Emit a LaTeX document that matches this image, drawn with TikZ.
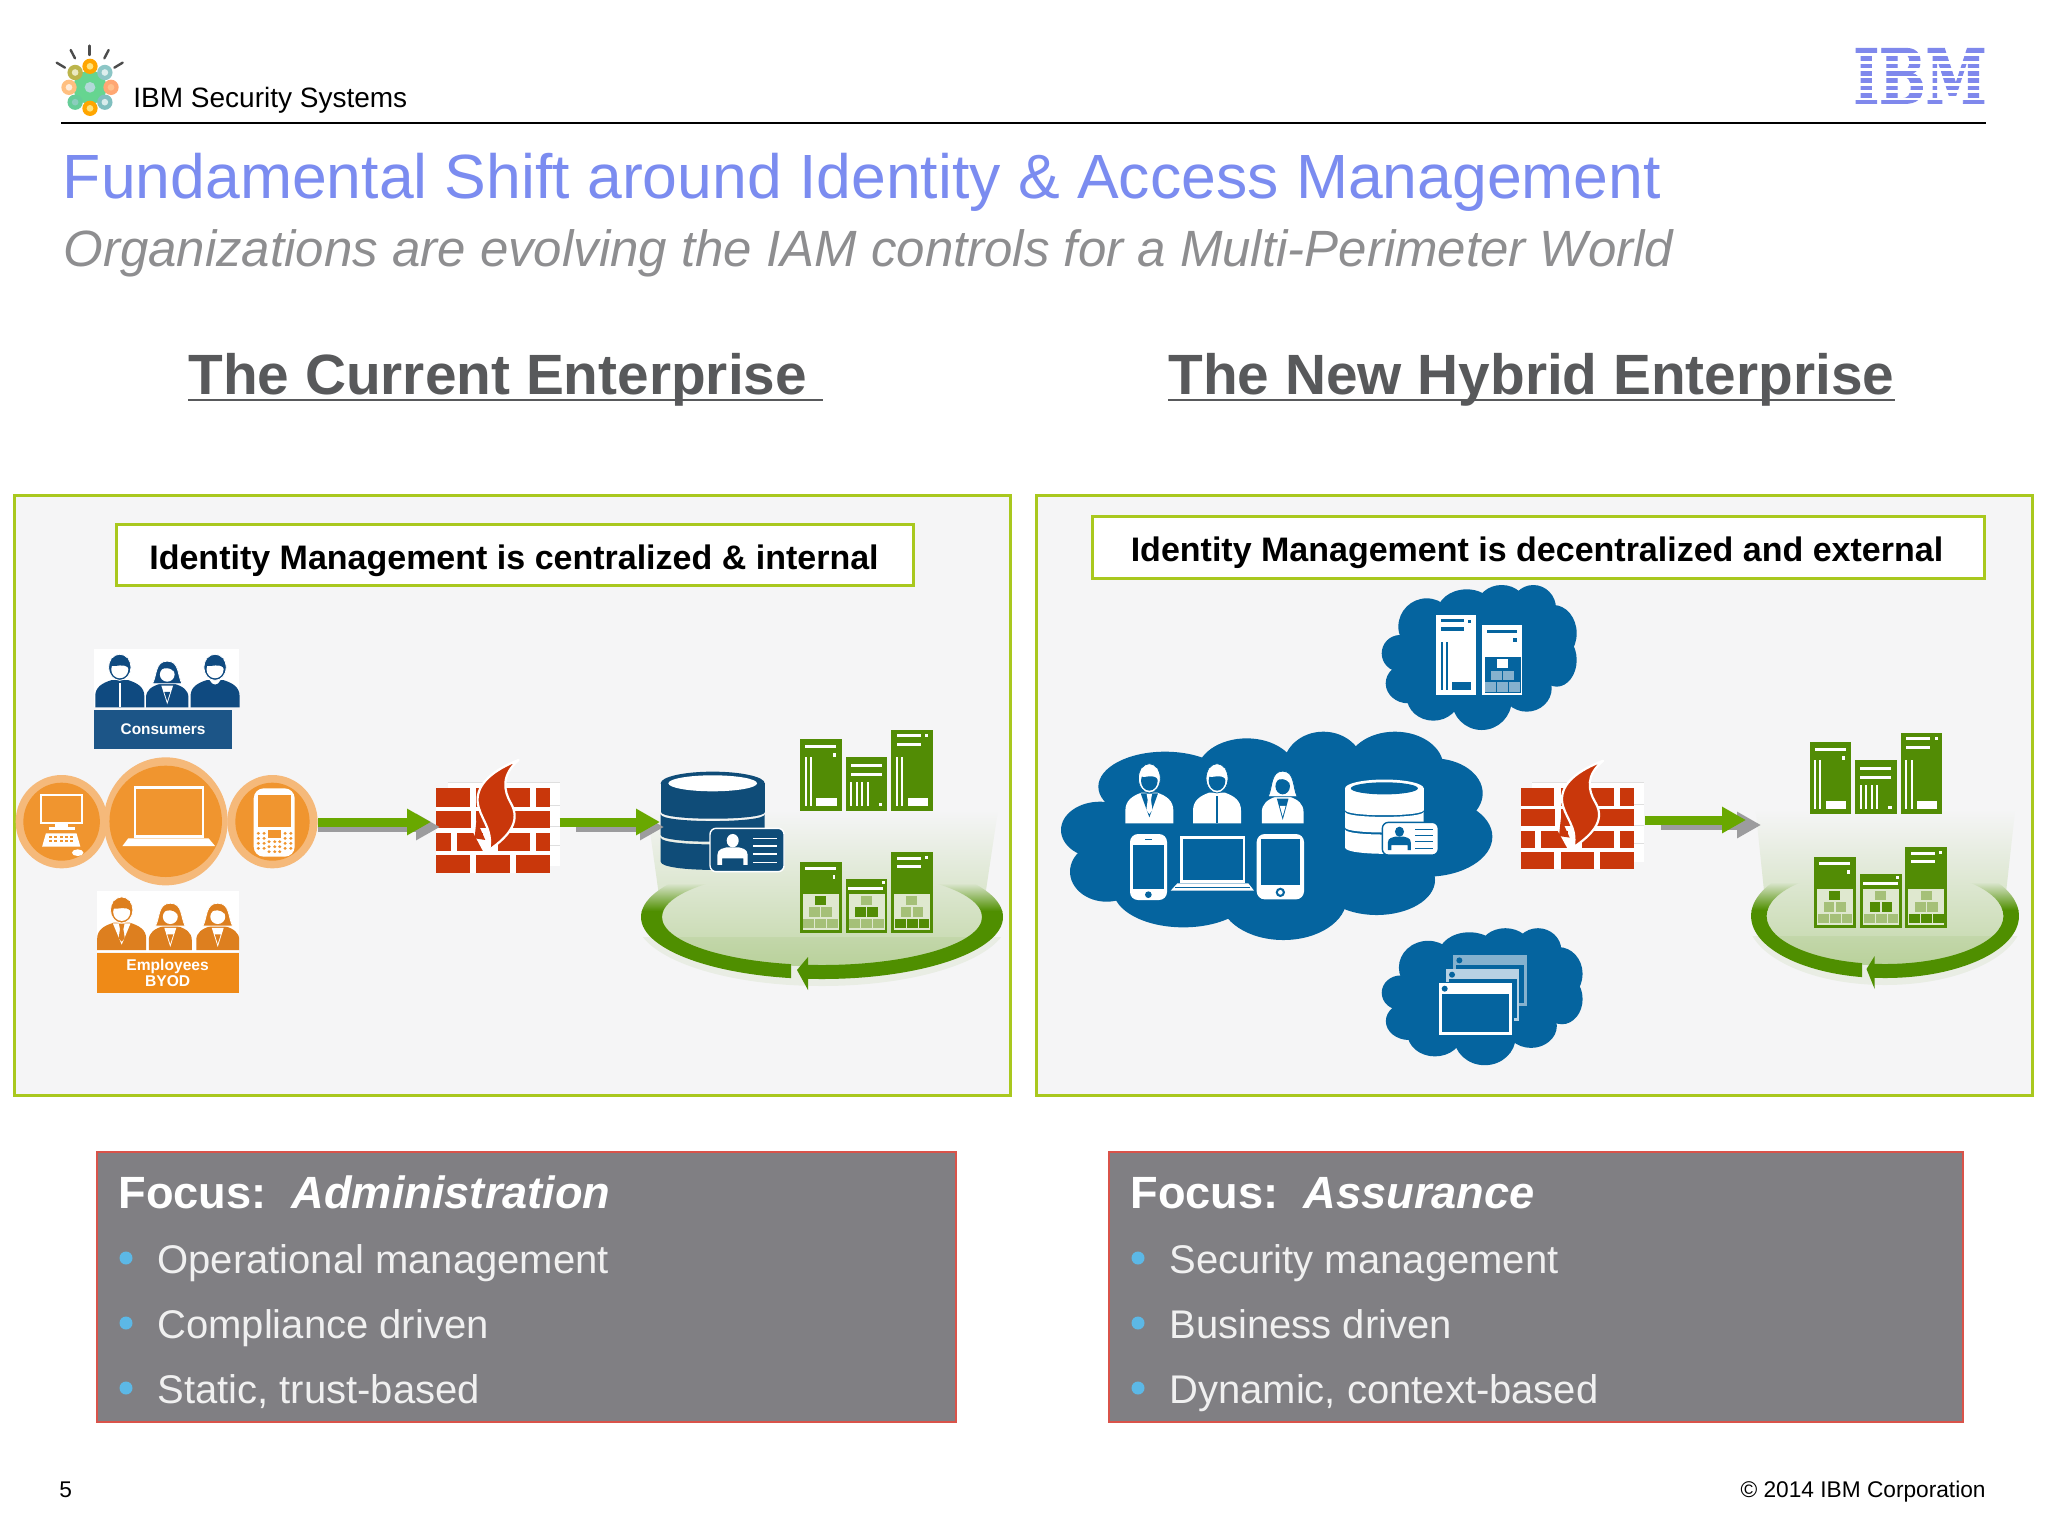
\documentclass[tikz,border=0pt]{standalone}
\usepackage{fontspec}
\setmainfont{Liberation Sans}
\newfontface\ibmfont[FakeBold=1.5]{DejaVu Serif Bold}
\usetikzlibrary{arrows.meta}
\definecolor{panelbg}{HTML}{F5F5F6}
\definecolor{panelline}{HTML}{A9C81E}
\definecolor{titleblue}{HTML}{7B8CF0}
\definecolor{subgray}{HTML}{8E8E90}
\definecolor{headgray}{HTML}{58595B}
\definecolor{focusbg}{HTML}{807F83}
\definecolor{focusline}{HTML}{D9534A}
\definecolor{bulletblue}{HTML}{5CB8E6}
\definecolor{cloudblue}{HTML}{05649F}
\definecolor{dbblue}{HTML}{0F4C78}
\definecolor{consblue}{HTML}{0F4A80}
\definecolor{conslabel}{HTML}{1C5587}
\definecolor{emplabel}{HTML}{EF8A17}
\definecolor{empdark}{HTML}{DD7F1F}
\definecolor{orangeout}{HTML}{F5B97A}
\definecolor{orangein}{HTML}{F0952F}
\definecolor{brick}{HTML}{C9370B}
\definecolor{srvgreen}{HTML}{528C05}
\definecolor{srvlight}{HTML}{A5C078}
\definecolor{srvframe}{HTML}{DFE8CF}
\definecolor{ringgreen}{HTML}{4F8F00}
\definecolor{beamgreen}{HTML}{C2D7A8}
\definecolor{arrowgreen}{HTML}{69A800}
\definecolor{arrowgray}{HTML}{9C9C9E}
\definecolor{ibmblue}{HTML}{7F88EC}
\definecolor{cloudlight}{HTML}{85B1CE}
\definecolor{cloudpale}{HTML}{B8D2E4}
\tikzset{
 zoomed/.style={x=0.16667pt,y=-0.16667pt},
 zoomwide/.style={x=0.19135pt,y=-0.16667pt},
 panelbox/.style={draw=panelline,fill=panelbg,line width=1.5pt},
 labelbox/.style={draw=panelline,fill=white,line width=1.5pt},
 focusbox/.style={draw=focusline,fill=focusbg,line width=0.8pt},
 focushead/.style={anchor=base west,inner sep=0pt,text=white,font=\fontsize{22.6}{28}\selectfont\bfseries},
 focusitem/.style={anchor=base west,inner sep=0pt,text=white!94!black,font=\fontsize{20}{24}\selectfont},
 bigtitle/.style={anchor=base west,inner sep=0pt},
 greenarrow/.style={draw=arrowgreen,line width=4.5pt,-{Triangle[length=12pt,width=12.5pt,fill=arrowgreen]}},
 grayarrow/.style={draw=arrowgray,line width=4.5pt,-{Triangle[length=12pt,width=12.5pt,fill=arrowgray]}},
}
% person: x y scale fg bg kind
\newcommand\myBust[6]{\begin{scope}[shift={(#1,#2)},scale=#3]
 \fill[#4] (-72,0) -- (-72,-38) .. controls (-72,-68) and (-52,-82) .. (-24,-92) -- (24,-92) .. controls (52,-82) and (72,-68) .. (72,-38) -- (72,0) -- cycle;
 \ifcase#6\relax
  \fill[#5] (-3,-82) rectangle (3,0);
 \or
  \fill[#5] (-26,-90) -- (0,-18) -- (26,-90) -- cycle;
  \fill[#4] (-8,-88) -- (8,-88) -- (5,-70) -- (9,-40) -- (0,-28) -- (-9,-40) -- (-5,-70) -- cycle;
 \or
  \fill[#5] (-20,-85) -- (0,-12) -- (20,-85) -- cycle;
  \fill[#4] (-10,-60) -- (10,-60) -- (0,-24) -- cycle;
 \or
  \fill[#5] (-16,-92) .. controls (-8,-72) and (8,-72) .. (16,-92) -- cycle;
 \fi
 \ifnum#6=2\relax
  \filldraw[fill=#4,draw=#5,line width=.4pt] (0,-180) .. controls (-42,-180) and (-34,-125) .. (-50,-92) -- (50,-92) .. controls (34,-125) and (42,-180) .. (0,-180) -- cycle;
  \fill[#5] (0,-128) ellipse (25 and 28);
  \fill[#4] (-27,-150) .. controls (-5,-150) and (5,-160) .. (22,-140) -- (20,-165) -- (-20,-165) -- cycle;
 \else
  \filldraw[fill=#4,draw=#5,line width=.4pt] (0,-135) ellipse (33 and 44);
  \fill[#5] (0,-128) ellipse (25 and 30);
  \fill[#4] (-26,-140) .. controls (-10,-136) and (12,-150) .. (26,-132) -- (24,-165) -- (-24,-165) -- cycle;
 \fi
\end{scope}}
% pyramid: x0 y0 frame c1 c2 c3
\newcommand\myPyr[6]{\begin{scope}[shift={(#1,#2)}]
 \fill[#3] (0,0) rectangle (108,108);
 \fill[#4] (37,5) rectangle (70,33);
 \fill[#5] (20,40) rectangle (52,68);
 \fill[#5] (56,40) rectangle (88,68);
 \fill[#6] (2,74) rectangle (35,103);
 \fill[#6] (38,74) rectangle (71,103);
 \fill[#6] (74,74) rectangle (106,103);
\end{scope}}
\newcommand\myTopServers{
 \fill[srvgreen] (600,118) rectangle (725,333);
 \fill[srvgreen] (737,170) rectangle (862,333);
 \fill[srvgreen] (873,90) rectangle (998,333);
 \begin{scope}[white]
 \fill (615,134) rectangle (708,143); \fill (698,160) rectangle (707,170);
 \fill (614,170) rectangle (620,318); \fill (629,170) rectangle (635,318);
 \fill (648,293) rectangle (710,318);
 \fill (752,193) rectangle (845,202); \fill (752,218) rectangle (845,227);
 \foreach \vv in {750,767,783,800}{\fill (\vv,245) rectangle (\vv+6,318);}
 \fill (836,308) rectangle (846,318);
 \fill (890,103) rectangle (962,112); \fill (890,128) rectangle (962,137); \fill (975,102) rectangle (984,112);
 \fill (887,172) rectangle (893,318); \fill (904,172) rectangle (910,318);
 \fill (923,293) rectangle (983,318);
 \end{scope}
}
\newcommand\myBotServers{
 \fill[srvgreen] (600,485) rectangle (725,698);
 \fill[srvgreen] (737,537) rectangle (862,698);
 \fill[srvgreen] (873,455) rectangle (998,698);
 \begin{scope}[white]
 \fill (615,500) rectangle (708,509); \fill (698,525) rectangle (706,537);
 \fill (745,560) rectangle (850,569); \fill (845,543) rectangle (855,553);
 \fill (890,470) rectangle (962,479); \fill (890,495) rectangle (962,504); \fill (975,468) rectangle (984,478);
 \end{scope}
 \myPyr{608}{582}{srvframe}{srvgreen}{srvlight}{srvlight}
 \myPyr{746}{582}{srvframe}{srvlight}{srvgreen}{srvlight}
 \myPyr{882}{582}{srvframe}{srvlight}{srvlight}{srvgreen}
}
% ring, local pixels, centre of the ellipses at origin
\newcommand\myRingBand{
  \clip (0,0) ellipse (181 and 62) (0,0) ellipse (160 and 48);
  \shade[top color=panelbg!54!beamgreen,bottom color=ringgreen] (-200,-34) rectangle (200,-6);
  \fill[ringgreen] (-200,-6) rectangle (200,100);
}
\newcommand\myRing{
 \begin{scope}
  \clip (-175,-107) -- (-160,0) .. controls (-160,66) and (160,66) .. (160,0) -- (176,-107) -- cycle;
  \shade[top color=panelbg,bottom color=beamgreen] (-200,-107) rectangle (200,50);
 \end{scope}
 \begin{scope}
  \clip (-210,20) rectangle (210,90);
  \fill[ringgreen,opacity=.07] (0,2) ellipse (186 and 67);
 \end{scope}
 \begin{scope}[even odd rule]
  \clip (-200,-40) rectangle (-31,100);
  \myRingBand
 \end{scope}
 \begin{scope}[even odd rule]
  \clip (-16,-40) rectangle (200,100);
  \myRingBand
 \end{scope}
 \fill[ringgreen] (-25,53) -- (-14,40) -- (-14,73) -- cycle;
}
% firewall, zoom units, origin = top left brick
\newcommand\myFirewall{
 \fill[white] (30,-18) rectangle (322,232);
 \foreach \yy in {-18,50,115,172}{\draw[gray!25,line width=.3pt] (30,\yy) -- (322,\yy);}
 \fill[white] (0,0) rectangle (296,253);
 \begin{scope}[brick]
 \fill (0,0) rectangle (88,55); \fill (105,0) rectangle (245,55); \fill (260,0) rectangle (296,55);
 \fill (0,67) rectangle (90,120); \fill (105,67) rectangle (296,120);
 \fill (0,135) rectangle (38,187); \fill (53,135) rectangle (123,187); \fill (160,135) rectangle (245,187); \fill (260,135) rectangle (296,187);
 \fill (0,200) rectangle (88,253); \fill (105,200) rectangle (192,253); \fill (208,200) rectangle (296,253);
 \end{scope}
 \filldraw[fill=brick,draw=white,line width=1.1pt,line join=round] (215,-85) .. controls (150,-55) and (105,-15) .. (108,40) .. controls (112,90) and (150,120) .. (138,185) .. controls (195,140) and (220,95) .. (195,45) .. controls (175,5) and (170,-40) .. (215,-85) -- cycle;
 \fill[white] (100,85) -- (125,160) -- (140,185) -- (125,195) -- (95,130) -- cycle;
 \fill[brick] (105,95) -- (128,155) -- (100,150) -- cycle;
}
% database: fg bg ; origin top ellipse centre, zoom2 units
\newcommand\myDb[2]{
 \fill[#1] (0,0) ellipse (156 and 35);
 \fill[#1] (-156,0) rectangle (156,85);
 \fill[#1] (-156,85) .. controls (-156,112) and (156,112) .. (156,85) -- cycle;
 \fill[#1] (-156,93) .. controls (-156,120) and (156,120) .. (156,93) -- (156,155) .. controls (156,182) and (-156,182) .. (-156,155) -- cycle;
 \fill[#1] (-156,163) .. controls (-156,190) and (156,190) .. (156,163) -- (156,235) .. controls (156,268) and (-156,268) .. (-156,235) -- cycle;
 \fill[#2] (0,0) ellipse (133 and 24);
 \filldraw[fill=#1,draw=#2,line width=.7pt,rounded corners=3pt] (-8,135) rectangle (214,265);
 \fill[#2] (60,172) ellipse (18 and 20);
 \fill[#2] (14,245) -- (14,215) .. controls (14,195) and (35,195) .. (42,192) -- (78,192) .. controls (85,195) and (105,195) .. (105,215) -- (105,245) -- (92,245) -- (92,225) -- (28,225) -- (28,245) -- cycle;
 \foreach \yy in {165,188,212,237}{\fill[#2] (122,\yy-2) rectangle (192,\yy+2);}
}
\newcommand\mySmallCloud{
 \fill[cloudblue] (1130,170) ellipse (85 and 85);
 \fill[cloudblue] (1050,250) ellipse (55 and 55);
 \fill[cloudblue] (1075,340) ellipse (68 and 60);
 \fill[cloudblue] (1250,130) ellipse (90 and 72);
 \fill[cloudblue] (1355,110) ellipse (75 and 65);
 \fill[cloudblue] (1450,115) ellipse (68 and 70);
 \fill[cloudblue] (1510,190) ellipse (70 and 85);
 \fill[cloudblue] (1520,270) ellipse (60 and 80);
 \fill[cloudblue] (1430,355) ellipse (75 and 70);
 \fill[cloudblue] (1295,390) ellipse (90 and 90);
 \fill[cloudblue] (1150,380) ellipse (80 and 72);
 \fill[cloudblue] (1080,130) rectangle (1500,380);
}
\begin{document}
\begin{tikzpicture}[x=0.5pt,y=-0.5pt]
\fill[white] (0,0) rectangle (2048,1536);
\useasboundingbox (0,0) rectangle (2048,1536);

%% header
\begin{scope}[shift={(30,30)},zoomed]
 \begin{scope}[line width=1.2pt,draw=black!70,line cap=round]
  \draw (179,47) -- (179,75);
  \draw (122,60) -- (135,85);
  \draw (236,60) -- (223,85);
  \draw (80,98) -- (105,113);
  \draw (278,98) -- (253,113);
 \end{scope}
 \begin{scope}[shift={(180,172)}]
  \fill[green!45!teal!60] (0,0) circle (50);
  \foreach \aa/\cc in {-90/orange!70!yellow,-45/teal!45,0/red!25!orange!55,45/teal!50,90/orange!70!yellow,135/green!35!teal!60,180/orange!50,225/olive!60}{
   \fill[\cc] (\aa:63) circle (23);
   \fill[white!70!\cc] (\aa:63) circle (10);
  }
  \fill[white!70!teal] (0,0) circle (16);
 \end{scope}
\end{scope}
\node[anchor=base west,inner sep=0pt,font=\fontsize{14}{16}\selectfont] (brand) at (133,107) {IBM Security Systems};
\draw[line width=1.1pt,black] (61,123) -- (1986,123);
\node[anchor=north west,inner sep=0pt,text=ibmblue] (ibm) at (1853,48) {\resizebox{66.5pt}{27.5pt}{\ibmfont IBM}};
\foreach \ii in {0,...,6}{\fill[white] (1850,53.5+7.35*\ii) rectangle (1990,56.3+7.35*\ii);}

%% titles
\node[bigtitle,text=titleblue,font=\fontsize{31.25}{36}\selectfont] (title) at (62.5,198) {Fundamental Shift around Identity \& Access Management};
\node[bigtitle,text=subgray,font=\fontsize{25.5}{30}\selectfont\itshape] (subtitle) at (63,266) {Organizations are evolving the IAM controls for a Multi-Perimeter World};
\node[bigtitle,text=headgray,font=\fontsize{28.4}{32}\selectfont\bfseries] (headL) at (188,394) {The Current Enterprise};
\draw[headgray,line width=1.2pt] (188,400) -- (823,400);
\node[bigtitle,text=headgray,font=\fontsize{28.4}{32}\selectfont\bfseries] (headR) at (1168,394) {The New Hybrid Enterprise};
\draw[headgray,line width=1.2pt] (1168,400) -- (1895,400);

%% panels
\path[panelbox] (14,495) rectangle (1010,1095);
\path[panelbox] (1036,495) rectangle (2032,1095);
\path[labelbox] (116,524) rectangle (913,585);
\node[font=\fontsize{17}{20}\selectfont\bfseries,inner sep=0pt] (lblL) at (514,561) {Identity Management is centralized \& internal};
\path[labelbox] (1092,516) rectangle (1984,578);
\node[font=\fontsize{17}{20}\selectfont\bfseries,inner sep=0pt] (lblR) at (1537,553) {Identity Management is decentralized and external};

%% left people and devices (crop at 0,620, its own horizontal scale)
\begin{scope}[shift={(0,620)},zoomwide]
 \fill[white] (246,87) rectangle (625,262);
 \myBust{313}{262}{.89}{consblue}{white}{0}
 \myBust{437}{262}{.77}{consblue}{white}{2}
 \myBust{562}{262}{.89}{consblue}{white}{3}
 \fill[conslabel] (246,270) rectangle (607,388);
 \node[text=white,font=\fontsize{7.7}{9}\selectfont\bfseries,inner sep=0pt] (cons) at (426,328) {Consumers};
 \fill[orangeout] (161,605) ellipse (120 and 140);
 \fill[orangein] (161,605) ellipse (100 and 117);
 \fill[orangeout] (712,605) ellipse (118 and 140);
 \fill[orangein] (712,605) ellipse (97 and 117);
 \fill[orangeout] (433,604) ellipse (162 and 192);
 \fill[orangein] (433,604) ellipse (147 and 167);
 % monitor
 \filldraw[draw=white,fill=orangein,line width=1pt] (107,526) rectangle (215,610);
 \fill[white] (145,612) rectangle (178,622); \fill[white] (128,622) rectangle (195,630);
 \fill[white] (120,640) -- (200,640) -- (210,680) -- (110,680) -- cycle;
 \foreach \yy in {648,660}{\foreach \xx in {128,142,156,170,184}{\fill[orangein] (\xx,\yy) rectangle (\xx+8,\yy+6);}}
 \fill[white] (203,698) ellipse (15 and 10);
 % laptop
 \filldraw[draw=white,fill=orangein,line width=1.2pt] (352,502) rectangle (530,650);
 \fill[white] (335,655) -- (545,655) -- (562,678) -- (320,678) -- cycle;
 % phone
 \fill[white,rounded corners=5pt] (663,505) rectangle (770,710);
 \fill[orangein] (673,525) rectangle (761,620);
 \fill[orangein] (700,630) rectangle (733,655);
 \foreach \yy in {640,655,670,685}{\foreach \xx in {675,690,745,760}{\fill[orangein] (\xx,\yy) circle (4.5);}}
 \foreach \yy in {665,680,695}{\foreach \xx in {703,718,731}{\fill[orangein] (\xx,\yy) circle (4.5);}}
 % employees
 \fill[white] (254,812) rectangle (625,995);
 \myBust{318}{990}{.89}{empdark}{white}{1}
 \myBust{445}{990}{.78}{empdark}{white}{2}
 \myBust{569}{990}{.78}{empdark}{white}{2}
 \fill[emplabel] (254,998) rectangle (624,1118);
 \node[text=white,align=center,font=\fontsize{7.8}{8}\selectfont\bfseries,inner sep=0pt] (emp) at (438,1058) {Employees\\BYOD};
\end{scope}

%% firewalls
\begin{scope}[shift={(436.3,788.3)},zoomed,xscale=1.148]\myFirewall\end{scope}
\begin{scope}[shift={(1520.7,788)},zoomed,xscale=1.148,yscale=.96]\myFirewall\end{scope}

%% rings and servers
\begin{scope}[shift={(822,917)}]\myRing\end{scope}
\begin{scope}[shift={(1885,916)},xscale=.74]\myRing\end{scope}
\begin{scope}[shift={(600,700)},zoomed]\myTopServers\myBotServers\end{scope}
\begin{scope}[shift={(1609.6,703)},zoomed]\myTopServers\end{scope}
\begin{scope}[shift={(1614.4,695)},zoomed]\myBotServers\end{scope}

%% database
\begin{scope}[shift={(712.7,783.3)},zoomed]\myDb{dbblue}{white}\end{scope}

%% connectors
\coordinate (a1s) at (318,822); \coordinate (a1g) at (318,827);
\coordinate (a1e) at (431,822); \coordinate (a1h) at (440,827);
\coordinate (a2s) at (559.5,822); \coordinate (a2g) at (576,827);
\coordinate (a2e) at (660,822); \coordinate (a2h) at (664,827);
\coordinate (a3s) at (1645,820); \coordinate (a3g) at (1661,825);
\coordinate (a3e) at (1746,820); \coordinate (a3h) at (1761,825);
\draw[grayarrow] (a1g) -- (a1h); \draw[greenarrow] (a1s) -- (a1e);
\draw[grayarrow] (a2g) -- (a2h); \draw[greenarrow] (a2s) -- (a2e);
\draw[grayarrow] (a3g) -- (a3h); \draw[greenarrow] (a3s) -- (a3e);

%% clouds (zoom units of crop at 1050,570)
\begin{scope}[shift={(1050,570)},zoomed]
 \foreach \lcx/\lcy/\lrx/\lry in {150/780/117/85,170/905/110/90,345/650/200/105,590/610/150/105,820/590/120/105,1035/590/145/105,1150/670/148/105,1130/800/197/120,980/930/175/105,700/985/190/125,400/960/210/112}{
  \fill[cloudblue] (\lcx,\lcy) ellipse [x radius=\lrx,y radius=\lry];
 }
 \fill[cloudblue] (200,650) rectangle (1150,950);
 \myBust{298}{760}{1}{white}{cloudblue}{1}
 \myBust{501}{760}{1}{white}{cloudblue}{0}
 \myBust{698}{760}{.87}{white}{cloudblue}{2}
 % phone, laptop, tablet
 \fill[white,rounded corners=4pt] (240,792) rectangle (351,990);
 \fill[cloudblue] (248,826) rectangle (343,958);
 \fill[cloudblue] (295,974) circle (10);
 \fill[cloudblue] (285,806) rectangle (305,811);
 \filldraw[draw=white,fill=cloudblue,line width=1.2pt] (395,803) rectangle (582,934);
 \fill[white] (382,940) -- (595,940) -- (612,962) -- (362,962) -- cycle;
 \fill[cloudblue] (375,950) rectangle (600,953);
 \fill[white,rounded corners=4pt] (620,792) rectangle (762,988);
 \fill[cloudblue] (632,808) rectangle (750,946);
 \fill[cloudblue] (691,967) circle (14); \fill[white] (691,967) circle (7);
 \begin{scope}[shift={(1003,655)},scale=.756]\myDb{white}{cloudblue}\end{scope}
 % upper cloud
 \mySmallCloud
 \fill[white] (1158,135) rectangle (1277,375);
 \fill[white] (1297,165) rectangle (1416,375);
 \begin{scope}[cloudblue]
  \fill (1172,147) rectangle (1243,157); \fill (1172,172) rectangle (1243,182); \fill (1255,150) rectangle (1264,160);
  \fill (1172,215) rectangle (1178,360); \fill (1187,215) rectangle (1193,360);
  \fill (1205,335) rectangle (1263,360);
  \fill (1310,180) rectangle (1402,190); \fill (1390,203) rectangle (1400,215);
 \end{scope}
 \myPyr{1304}{262}{cloudblue}{white}{cloudlight}{cloudlight}
\end{scope}
\begin{scope}[shift={(1040,914)},x=0.1717pt,y=-0.1575pt]
 \mySmallCloud
\end{scope}
\begin{scope}[shift={(1050,570)},zoomed]
 \fill[cloudlight] (1210,1155) rectangle (1430,1308);
 \fill[cloudblue] (1218,1185) rectangle (1422,1300);
 \fill[cloudblue] (1228,1171) circle (9);
 \fill[cloudpale] (1188,1198) rectangle (1408,1352);
 \fill[cloudblue] (1197,1228) rectangle (1400,1344);
 \fill[cloudblue] (1206,1214) circle (9);
 \fill[cloudblue] (1160,1235) rectangle (1393,1400);
 \fill[white] (1166,1240) rectangle (1387,1395);
 \fill[cloudblue] (1177,1272) rectangle (1378,1385);
 \fill[cloudblue] (1184,1256) circle (9);
\end{scope}

%% focus boxes
\path[focusbox] (97,1152) rectangle (956,1422);
\path[focusbox] (1109,1152) rectangle (1963,1422);
\node[focushead] (fL) at (118,1208) {Focus:\ \ \textit{Administration}};
\node[focushead] (fR) at (1130,1208) {Focus:\ \ \textit{Assurance}};
\foreach \yy in {1258,1323,1388}{
 \fill[bulletblue] (126,\yy) circle (6.5);
 \fill[bulletblue] (1138,\yy) circle (6.5);
}
\node[focusitem] (l1) at (157,1273) {Operational management};
\node[focusitem] (l2) at (157,1338) {Compliance driven};
\node[focusitem] (l3) at (157,1403) {Static, trust-based};
\node[focusitem] (r1) at (1169,1273) {Security management};
\node[focusitem] (r2) at (1169,1338) {Business driven};
\node[focusitem] (r3) at (1169,1403) {Dynamic, context-based};

%% footer
\node[anchor=base west,inner sep=0pt,font=\fontsize{11.35}{13}\selectfont] (page) at (59,1497) {5};
\node[anchor=base east,inner sep=0pt,font=\fontsize{11.35}{13}\selectfont] (copy) at (1986,1497) {© 2014 IBM Corporation};
\end{tikzpicture}
\end{document}
